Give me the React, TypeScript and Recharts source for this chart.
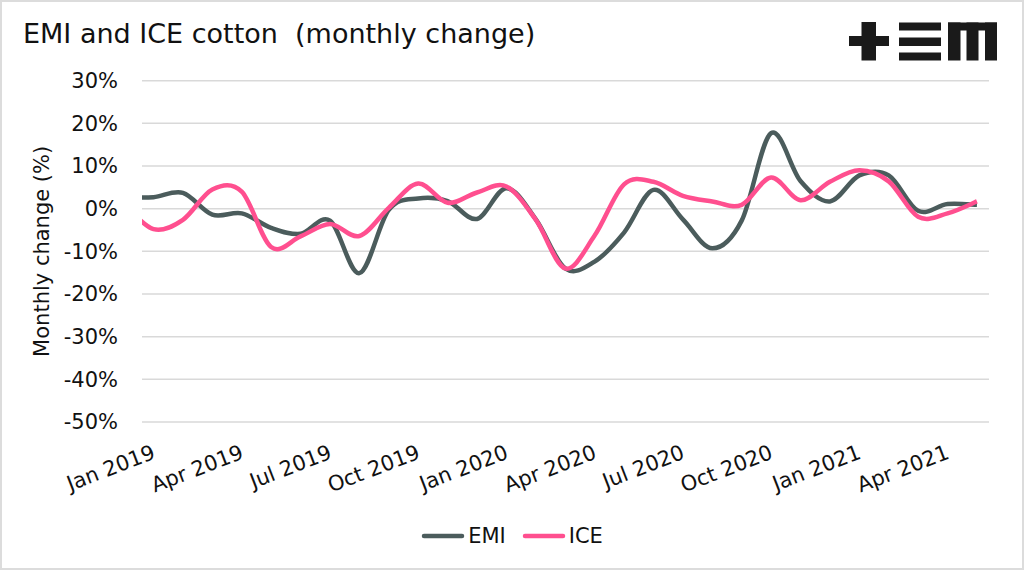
import React from "react";
import {
  CartesianGrid,
  Legend,
  Line,
  LineChart,
  XAxis,
  YAxis,
} from "recharts";

// Dec 2018 sits just left of the plot and gets clipped, like the original
const months = [
  "Dec 2018",
  "Jan 2019", "Feb 2019", "Mar 2019", "Apr 2019", "May 2019", "Jun 2019",
  "Jul 2019", "Aug 2019", "Sep 2019", "Oct 2019", "Nov 2019", "Dec 2019",
  "Jan 2020", "Feb 2020", "Mar 2020", "Apr 2020", "May 2020", "Jun 2020",
  "Jul 2020", "Aug 2020", "Sep 2020", "Oct 2020", "Nov 2020", "Dec 2020",
  "Jan 2021", "Feb 2021", "Mar 2021", "Apr 2021", "May 2021",
];

const emi = [
  2.6,
  2.7, 3.7, -1.4, -1.1, -4.5, -5.9, -2.8, -15.1, -0.3, 2.4, 1.8, -2.4,
  4.8, -2.5, -14.0, -12.4, -5.6, 4.4, -2.5, -9.3, -2.8, 17.7, 6.5, 1.7,
  7.8, 7.8, -0.5, 1.1, 0.9,
];

const ice = [
  1.0,
  -4.8, -2.6, 4.5, 4.0, -9.0, -6.5, -3.6, -6.4, 0.2, 5.9, 1.4, 3.8,
  5.2, -2.6, -14.0, -6.3, 5.7, 6.3, 3.0, 1.7, 0.9, 7.3, 2.0, 6.3,
  9.0, 6.4, -1.9, -1.1, 1.7,
];

const xTicks = [0, 3, 6, 9, 12, 15, 18, 21, 24, 27];
const yTicks = [-50, -40, -30, -20, -10, 0, 10, 20, 30];

const data = months.map((m, i) => ({ x: i - 1, month: m, EMI: emi[i], ICE: ice[i] }));

const FONT = "'DejaVu Sans', sans-serif";

// smoothed line similar to Excel's (catmull-rom through the points)
function smooth(context: any) {
  let pts: number[][] = [];
  return {
    areaStart() {},
    areaEnd() {},
    lineStart() {
      pts = [];
    },
    point(x: number, y: number) {
      pts.push([+x, +y]);
    },
    lineEnd() {
      const n = pts.length;
      if (!n) return;
      context.moveTo(pts[0][0], pts[0][1]);
      for (let i = 0; i < n - 1; i++) {
        const p0 = pts[Math.max(i - 1, 0)];
        const p1 = pts[i];
        const p2 = pts[i + 1];
        const p3 = pts[Math.min(i + 2, n - 1)];
        context.bezierCurveTo(
          p1[0] + (p2[0] - p0[0]) / 6,
          p1[1] + (p2[1] - p0[1]) / 6,
          p2[0] - (p3[0] - p1[0]) / 6,
          p2[1] - (p3[1] - p1[1]) / 6,
          p2[0],
          p2[1]
        );
      }
    },
  };
}

function MonthTick({ x, y, payload }: any) {
  const label = months[payload.value + 1];
  const ax = x + 3;
  const ay = y + 36;
  return (
    <text
      x={ax}
      y={ay}
      textAnchor="end"
      fontSize={21}
      fill="#111"
      fontFamily={FONT}
      transform={`rotate(-21, ${ax}, ${ay})`}
    >
      {label}
    </text>
  );
}

function LegendRow({ payload }: any) {
  return (
    <div style={{ display: "flex", justifyContent: "center", alignItems: "center", height: 36 }}>
      {(payload || []).map((entry: any) => (
        <span key={entry.value} style={{ display: "flex", alignItems: "center", margin: "0 8px" }}>
          <svg width={44} height={8}>
            <line x1={3} y1={4} x2={41} y2={4} stroke={entry.color} strokeWidth={4.5} strokeLinecap="round" />
          </svg>
          <span style={{ fontSize: 21, color: "#111", marginLeft: 3, fontFamily: FONT }}>{entry.value}</span>
        </span>
      ))}
    </div>
  );
}

export default function App() {
  return (
    <div style={{ position: "absolute", left: 0, top: 0, width: 1024, height: 570, background: "#fff", fontFamily: FONT }}>
      <LineChart
        width={1024}
        height={570}
        data={data}
        margin={{ top: 80.7, right: 35, left: 0, bottom: 0 }}
      >
        <CartesianGrid vertical={false} stroke="#d9d9d9" strokeWidth={1.5} />
        <XAxis
          dataKey="x"
          type="number"
          domain={[-0.391, 28.41]}
          allowDataOverflow
          ticks={xTicks}
          interval={0}
          axisLine={false}
          tickLine={false}
          tickSize={0}
          tickMargin={0}
          height={112}
          tick={<MonthTick />}
        />
        <YAxis
          type="number"
          domain={[-50, 30]}
          ticks={yTicks}
          width={142}
          axisLine={false}
          tickLine={false}
          tickSize={0}
          tickMargin={24}
          tick={{ fontSize: 21, fill: "#111", fontFamily: FONT }}
          tickFormatter={(v) => `${v}%`}
          label={{
            content: (p: any) => {
              const vb = p.viewBox || { x: 0, y: 80.7, height: 341.3 };
              const cx = vb.x + 42;
              const cy = vb.y + vb.height / 2;
              return (
                <text
                  x={cx}
                  y={cy}
                  textAnchor="middle"
                  dominantBaseline="central"
                  fontSize={21}
                  fill="#111"
                  fontFamily={FONT}
                  transform={`rotate(-90, ${cx}, ${cy})`}
                >
                  Monthly change (%)
                </text>
              );
            },
          }}
        />
        <Legend
          verticalAlign="bottom"
          content={<LegendRow />}
          wrapperStyle={{ left: 0, width: 1024, top: 518, height: 36 }}
        />
        <Line
          dataKey="EMI"
          name="EMI"
          type={smooth as any}
          stroke="#4b5c5c"
          strokeWidth={4.5}
          dot={false}
          activeDot={false}
          isAnimationActive={false}
        />
        <Line
          dataKey="ICE"
          name="ICE"
          type={smooth as any}
          stroke="#ff4f8f"
          strokeWidth={4.5}
          dot={false}
          activeDot={false}
          isAnimationActive={false}
        />
      </LineChart>

      <svg width={1024} height={80} style={{ position: "absolute", left: 0, top: 0 }}>
        <text x={23} y={43} fontSize={27} fill="#111" fontFamily={FONT} style={{ whiteSpace: "pre" }}>
          {"EMI and ICE cotton  (monthly change)"}
        </text>
        {/* logo */}
        <g fill="#1a1a1a">
          <rect x={849} y={36} width={40} height={10} />
          <rect x={861.5} y={22} width={14.5} height={38.5} />
          <rect x={899} y={22.5} width={42} height={8} />
          <rect x={899} y={37.5} width={42} height={8.5} />
          <rect x={899} y={52.5} width={42} height={8} />
          <rect x={948} y={22.5} width={49} height={8} />
          <rect x={948} y={22.5} width={12.5} height={38} />
          <rect x={966.5} y={22.5} width={12} height={38} />
          <rect x={985} y={22.5} width={12} height={38} />
        </g>
      </svg>
      <div
        style={{
          position: "absolute",
          inset: 0,
          border: "2px solid #dcdcdc",
          boxSizing: "border-box",
          pointerEvents: "none",
        }}
      />
    </div>
  );
}
